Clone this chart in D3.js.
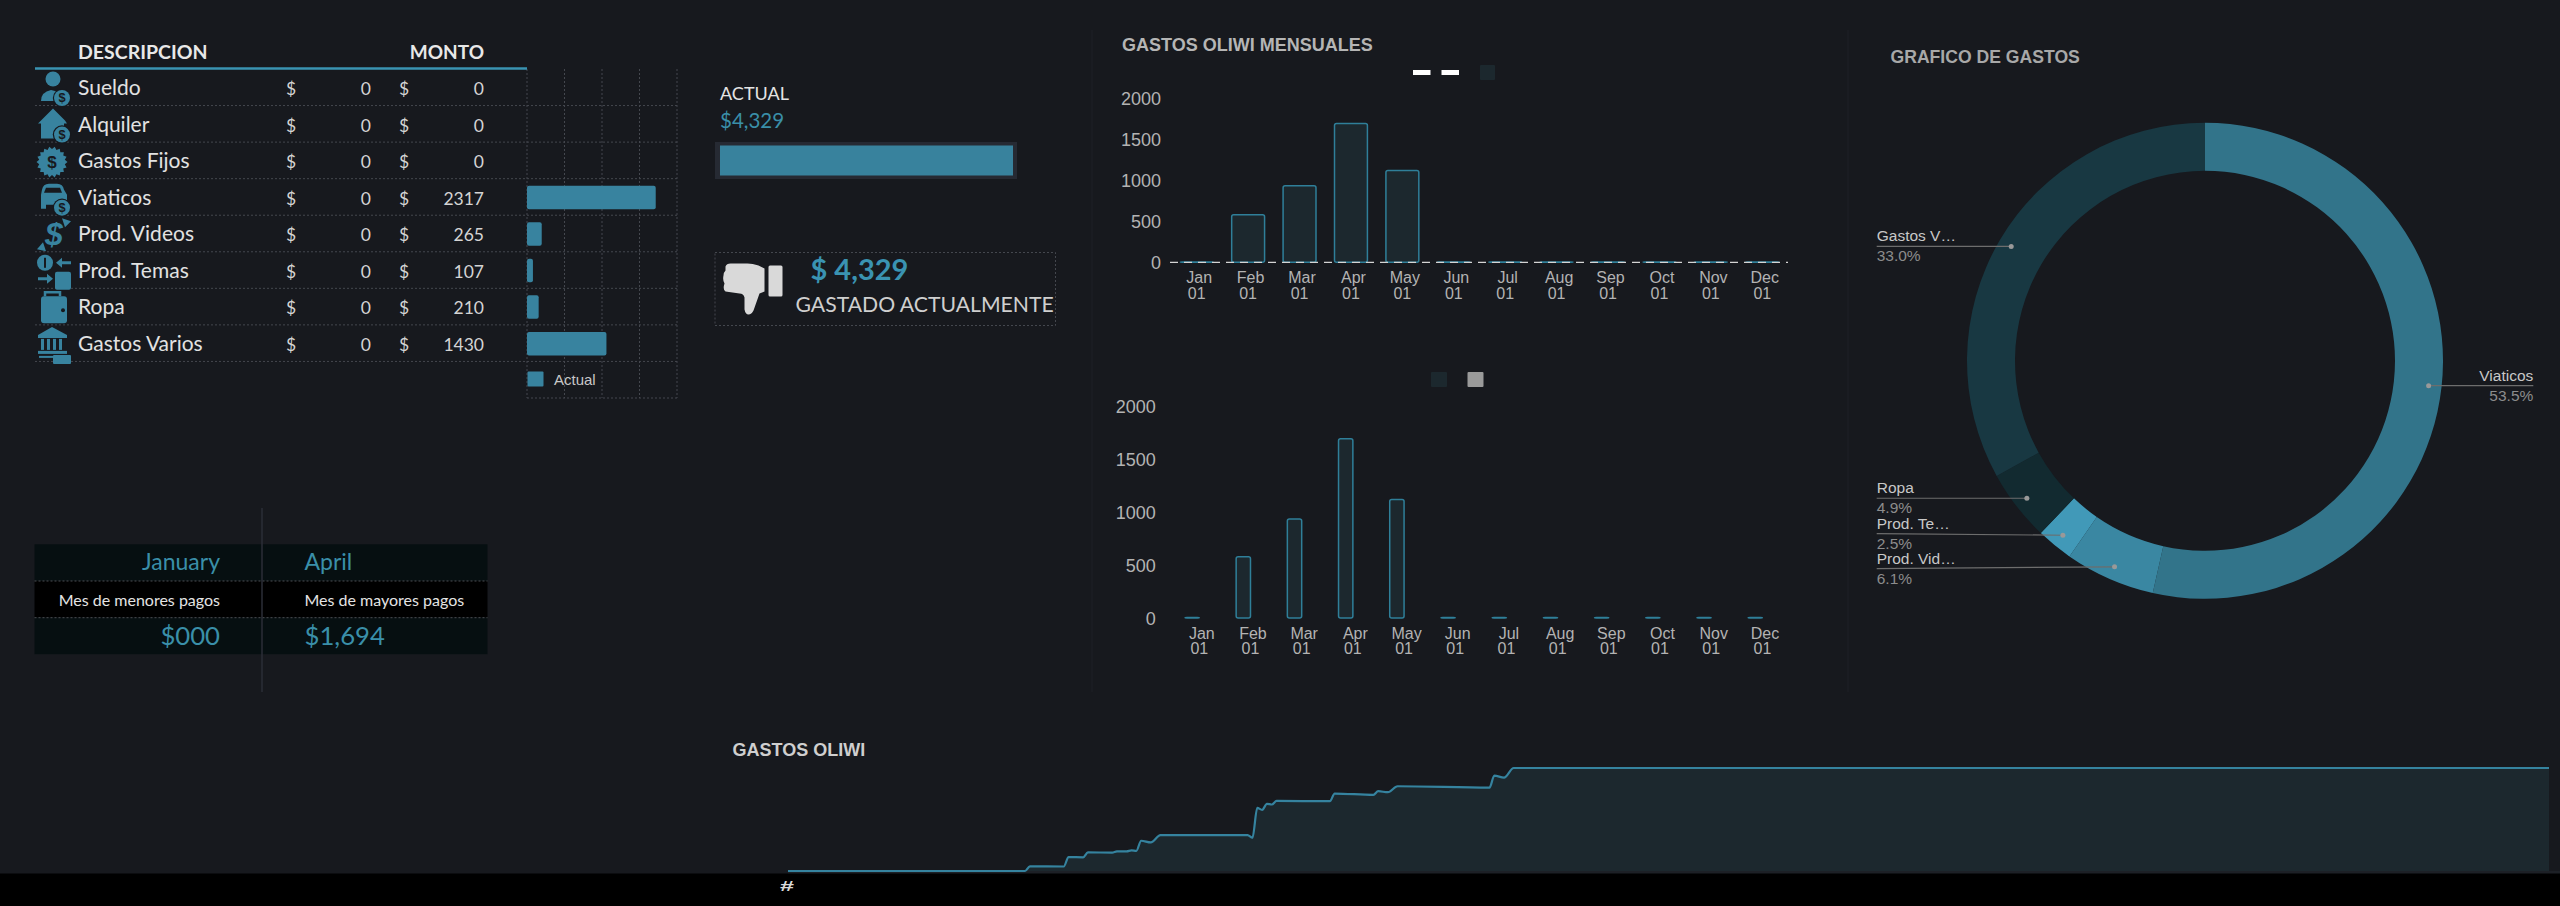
<!DOCTYPE html>
<html>
<head>
<meta charset="utf-8">
<title>Gastos Oliwi</title>
<script src="https://cdn.jsdelivr.net/npm/d3@7"></script>
<style>
    html, body { margin: 0; padding: 0; background: #17191e; overflow: hidden; }
    text { font-family: "Liberation Sans", Arial, sans-serif; }
    .nun { font-family: Lato, "Noto Sans", sans-serif; }
</style>
</head>
<body>
<div id="chart"></div>
<script>
// Table data
const categories = ['Sueldo', 'Alquiler', 'Gastos Fijos', 'Viaticos', 'Prod. Videos', 'Prod. Temas', 'Ropa', 'Gastos Varios'];
const presupuesto = [0, 0, 0, 0, 0, 0, 0, 0];
const montos = [0, 0, 0, 2317, 265, 107, 210, 1430];

// Monthly data
const months = ['Jan', 'Feb', 'Mar', 'Apr', 'May', 'Jun', 'Jul', 'Aug', 'Sep', 'Oct', 'Nov', 'Dec'];
const monthlyValues = [0, 580, 935, 1694, 1120, 0, 0, 0, 0, 0, 0, 0];
const monthTicks = [0, 500, 1000, 1500, 2000];

// Donut data
const donutLabels = ['Viaticos', 'Prod. Vid…', 'Prod. Te…', 'Ropa', 'Gastos V…'];
const donutValues = [2317, 265, 107, 210, 1430];
const donutPercents = ['53.5%', '6.1%', '2.5%', '4.9%', '33.0%'];
const donutColors = ['#32748a', '#3a87a2', '#4199b8', '#122a30', '#183842'];

// Running total data
const runningDates = ['2021-01-01', '2021-02-19', '2021-02-20', '2021-02-27', '2021-02-28', '2021-03-03', '2021-03-04',
    '2021-03-09', '2021-03-10', '2021-03-12', '2021-03-13', '2021-03-14', '2021-03-15', '2021-03-17', '2021-03-19',
    '2021-04-06', '2021-04-07', '2021-04-08', '2021-04-09', '2021-04-10', '2021-04-11', '2021-04-12', '2021-04-23',
    '2021-04-24', '2021-05-02', '2021-05-03', '2021-05-05', '2021-05-07', '2021-05-26', '2021-05-27', '2021-05-29',
    '2021-05-31', '2021-12-31'];
const runningValues = [0, 0, 196, 190, 587, 575, 782,
    775, 824, 824, 866, 850, 1271, 1201, 1508,
    1508, 1397, 2654, 2570, 2821, 2795, 2947, 2933,
    3255, 3199, 3353, 3311, 3562, 3506, 4009, 3926,
    4329, 4329];

const total = 4329;

// Colours
const teal = '#38839f';
const tealText = '#3a8fa9';
const darkFill = '#1c282e';
const grid = '#44474e';

const svg = d3.select('#chart')
    .append('svg')
    .attr('width', 2560)
    .attr('height', 906)
    .style('display', 'block');

// Panel separators
function drawSeparators() {
    svg.selectAll('.separator')
        .data([1092, 1848])
        .enter()
        .append('line')
        .attr('class', 'separator')
        .attr('x1', d => d)
        .attr('x2', d => d)
        .attr('y1', 30)
        .attr('y2', 692)
        .attr('stroke', '#1e2127');
}

// Small coin with a dollar sign, used by the row icons
function coin(g, x, y, r) {
    g.append('circle').attr('cx', x).attr('cy', y).attr('r', r + 1.2).attr('fill', '#17191e');
    g.append('circle').attr('cx', x).attr('cy', y).attr('r', r).attr('fill', teal);
    g.append('text')
        .attr('x', x)
        .attr('y', y + r * 0.55)
        .attr('text-anchor', 'middle')
        .attr('font-size', r * 1.6)
        .attr('font-weight', 'bold')
        .attr('fill', '#17191e')
        .text('$');
}

function shape(g, d) {
    return g.append('path').attr('d', d).attr('fill', teal);
}

// One function for each row icon, all in a 34x36 box
const icons = [
    g => {
        g.append('circle').attr('cx', 16).attr('cy', 8).attr('r', 7.5).attr('fill', teal);
        shape(g, 'M4 30 Q4 21 14 19 L22 21 L18 30 Z');
        coin(g, 25, 27, 8);
    },
    g => {
        shape(g, 'M1 16 L16 1 L28 13 L30 16 L27 16 L27 31 L4 31 L4 16 Z');
        coin(g, 25, 27, 8);
    },
    g => {
        const star = d3.lineRadial().curve(d3.curveLinearClosed);
        g.append('path')
            .attr('transform', 'translate(15,18)')
            .attr('d', star(d3.range(36).map(i => [i * Math.PI / 18, i % 2 ? 15.5 : 13])))
            .attr('fill', teal);
        g.append('text').attr('x', 15).attr('y', 24).attr('text-anchor', 'middle')
            .attr('font-size', 17).attr('font-weight', 'bold').attr('fill', '#17191e').text('$');
    },
    g => {
        shape(g, 'M5 9 Q6 3 12 3 L20 3 Q26 3 27 9 L30 14 L30 24 L26 24 L26 28 L21 28 L21 24 L9 24 L9 28 L4 28 L4 14 Z');
        g.append('path').attr('d', 'M9 7 L23 7 L25 12 L7 12 Z').attr('fill', '#17191e');
        coin(g, 25, 27, 8);
    },
    g => {
        g.append('text').attr('x', 17).attr('y', 28).attr('text-anchor', 'middle')
            .attr('font-size', 32).attr('font-weight', 'bold').attr('font-style', 'italic').attr('fill', teal).text('$');
        shape(g, 'M25 1 L34 4 L28 10 Z');
        shape(g, 'M0 32 L9 34 L6 25 Z');
    },
    g => {
        g.append('circle').attr('cx', 8).attr('cy', 9).attr('r', 8).attr('fill', teal);
        g.append('rect').attr('x', 7).attr('y', 4).attr('width', 2).attr('height', 10).attr('fill', '#17191e');
        shape(g, 'M19 9 L25 4 L25 7.5 L34 7.5 L34 10.5 L25 10.5 L25 14 Z');
        shape(g, 'M16 25 L10 20 L10 23.5 L1 23.5 L1 26.5 L10 26.5 L10 30 Z');
        g.append('rect').attr('x', 18).attr('y', 18).attr('width', 16).attr('height', 18).attr('rx', 2).attr('fill', teal);
    },
    g => {
        g.append('path').attr('d', 'M8 6 L8 2 L23 2 L23 6').attr('fill', 'none').attr('stroke', teal).attr('stroke-width', 2.5);
        g.append('rect').attr('x', 4).attr('y', 6).attr('width', 26).attr('height', 27).attr('rx', 3).attr('fill', teal);
        g.append('circle').attr('cx', 26).attr('cy', 20).attr('r', 2).attr('fill', '#17191e');
    },
    g => {
        shape(g, 'M15 0 L30 8 L30 11 L1 11 L1 8 Z');
        g.selectAll('.col').data([4, 10, 16, 22]).enter().append('rect')
            .attr('x', d => d).attr('y', 12).attr('width', 3).attr('height', 11).attr('fill', teal);
        g.append('rect').attr('x', 1).attr('y', 24).attr('width', 29).attr('height', 3).attr('fill', teal);
        g.append('rect').attr('x', 2).attr('y', 29).attr('width', 14).attr('height', 2).attr('fill', teal);
        g.append('rect').attr('x', 16).attr('y', 28).attr('width', 18).attr('height', 9).attr('rx', 1).attr('fill', teal);
    }
];

// Table with its bar chart on the right
function drawTable() {
    const rowNames = categories.concat(['legend']);

    const y = d3.scaleBand().domain(rowNames).range([69, 398]);
    const x = d3.scaleLinear().domain([0, 2700]).range([527, 677]);

    // Grid of the bar chart
    svg.selectAll('.grid-v')
        .data(d3.range(0, 2701, 675))
        .enter()
        .append('line')
        .attr('class', 'grid-v')
        .attr('x1', d => x(d))
        .attr('x2', d => x(d))
        .attr('y1', 69)
        .attr('y2', 398)
        .attr('stroke', grid)
        .attr('stroke-dasharray', '2 2');

    // Row lines run through the table, the last one only under the chart
    svg.selectAll('.grid-h')
        .data(rowNames)
        .enter()
        .append('line')
        .attr('class', 'grid-h')
        .attr('x1', d => d === 'legend' ? 527 : 35)
        .attr('x2', 677)
        .attr('y1', d => y(d) + y.bandwidth())
        .attr('y2', d => y(d) + y.bandwidth())
        .attr('stroke', grid)
        .attr('stroke-dasharray', '2 2');

    svg.append('line')
        .attr('x1', 35)
        .attr('x2', 527)
        .attr('y1', 68.5)
        .attr('y2', 68.5)
        .attr('stroke', '#3a93b2')
        .attr('stroke-width', 2.5);

    svg.append('text')
        .attr('class', 'nun')
        .attr('x', 78)
        .attr('y', 59)
        .attr('font-size', 19.5)
        .attr('font-weight', 'bold')
        .attr('fill', '#e8e8e8')
        .text('DESCRIPCION');

    svg.append('text')
        .attr('class', 'nun')
        .attr('x', 484)
        .attr('y', 59)
        .attr('text-anchor', 'end')
        .attr('font-size', 19)
        .attr('font-weight', 'bold')
        .attr('fill', '#e8e8e8')
        .text('MONTO');

    const rows = svg.selectAll('.row')
        .data(categories)
        .enter()
        .append('g')
        .attr('class', 'row')
        .attr('transform', d => `translate(0,${y(d)})`);

    rows.each(function (d, i) {
        icons[i](d3.select(this).append('g').attr('transform', 'translate(37,2)'));
    });

    rows.append('text')
        .attr('class', 'nun')
        .attr('x', 78)
        .attr('y', 26)
        .attr('font-size', 21)
        .attr('fill', '#e2e2e2')
        .text(d => d);

    [[291, 'middle', () => '$'], [371, 'end', (d, i) => presupuesto[i]], [404, 'middle', () => '$'], [484, 'end', (d, i) => montos[i]]]
        .forEach(col => {
            rows.append('text')
                .attr('class', 'nun')
                .attr('x', col[0])
                .attr('y', 26)
                .attr('text-anchor', col[1])
                .attr('font-size', 17.5)
                .attr('fill', '#d4d4d4')
                .text(col[2]);
        });

    // Bars
    const barHeight = 23.5;
    svg.selectAll('.bar')
        .data(categories)
        .enter()
        .append('rect')
        .attr('class', 'bar')
        .attr('x', x(0))
        .attr('y', d => y(d) + (y.bandwidth() - barHeight) / 2 + 0.5)
        .attr('width', (d, i) => x(montos[i]) - x(0))
        .attr('height', barHeight)
        .attr('rx', 2)
        .attr('fill', teal);

    // Legend
    svg.append('rect')
        .attr('x', 527.5)
        .attr('y', 371.5)
        .attr('width', 16)
        .attr('height', 15)
        .attr('rx', 1)
        .attr('fill', teal);

    svg.append('text')
        .attr('x', 554)
        .attr('y', 384.5)
        .attr('font-size', 15)
        .attr('fill', '#c8c8c8')
        .text('Actual');
}

// Actual progress bar and spent card
function drawActual() {
    svg.append('text')
        .attr('class', 'nun')
        .attr('x', 720)
        .attr('y', 100)
        .attr('font-size', 18)
        .attr('fill', '#e4e4e4')
        .text('ACTUAL');

    svg.append('text')
        .attr('class', 'nun')
        .attr('x', 720)
        .attr('y', 127.5)
        .attr('font-size', 20.5)
        .attr('fill', tealText)
        .text('$' + d3.format(',')(total));

    const x = d3.scaleLinear().domain([0, total]).range([720, 1013]);

    svg.append('rect')
        .attr('x', 715)
        .attr('y', 142)
        .attr('width', 302)
        .attr('height', 37)
        .attr('fill', '#262a33');

    svg.append('rect')
        .attr('x', x(0))
        .attr('y', 145.5)
        .attr('width', x(total) - x(0))
        .attr('height', 30)
        .attr('fill', '#38829d');

    // Spent card
    svg.append('rect')
        .attr('x', 715)
        .attr('y', 252.5)
        .attr('width', 340.5)
        .attr('height', 73)
        .attr('fill', 'none')
        .attr('stroke', grid)
        .attr('stroke-dasharray', '2 2');

    const thumb = svg.append('g').attr('transform', 'translate(722.5,262.5)').attr('fill', '#d9d9d9');
    thumb.append('path')
        .attr('d', 'M8 1 Q4 1 3 4 L3 8 Q1 10 1 13 Q0 18 2 21 Q0 27 3 29 L17 31 Q21 31 22 35 L22 47 Q23 52 26 52 Q29 52 31 48 L37 31 L42 29 L42 6 L36 3 Q30 1 25 1 Z');
    thumb.append('rect')
        .attr('x', 46)
        .attr('y', 3)
        .attr('width', 14)
        .attr('height', 31)
        .attr('rx', 1.5);

    svg.append('text')
        .attr('class', 'nun')
        .attr('x', 810.5)
        .attr('y', 280)
        .attr('font-size', 29)
        .attr('font-weight', 'bold')
        .attr('fill', '#3a93b2')
        .text('$ ' + d3.format(',')(total));

    svg.append('text')
        .attr('class', 'nun')
        .attr('x', 795.5)
        .attr('y', 311.5)
        .attr('font-size', 21.2)
        .attr('fill', '#cfcfcf')
        .text('GASTADO ACTUALMENTE');
}

// Two line month labels below a chart
function monthLabels(x, baseline) {
    const labels = svg.selectAll(null)
        .data(months)
        .enter()
        .append('text')
        .attr('text-anchor', 'middle')
        .attr('font-size', 16)
        .attr('fill', '#b3b3b3');

    labels.append('tspan')
        .attr('x', d => x(d) + x.bandwidth() / 2 + 2.5)
        .attr('y', baseline)
        .text(d => d);

    labels.append('tspan')
        .attr('x', d => x(d) + x.bandwidth() / 2)
        .attr('y', baseline + 15.5)
        .text('01');
}

function yAxisLabels(y, right) {
    svg.selectAll(null)
        .data(monthTicks)
        .enter()
        .append('text')
        .attr('x', right)
        .attr('y', d => y(d) + 6.5)
        .attr('text-anchor', 'end')
        .attr('font-size', 18)
        .attr('fill', '#b3b3b3')
        .text(d => d);
}

// Height of a bar, empty months keep a thin line so their stroke shows
function barSize(y, value) {
    return Math.max(y(0) - y(value), 0.4);
}

// Top monthly chart
function drawMonthlyTop() {
    svg.append('text')
        .attr('x', 1122)
        .attr('y', 51)
        .attr('font-size', 18)
        .attr('font-weight', 'bold')
        .attr('fill', '#b5b5b5')
        .text('GASTOS OLIWI MENSUALES');

    const x = d3.scaleBand().domain(months).range([1171, 1788]).paddingInner(0.36).paddingOuter(0.18);
    const y = d3.scaleLinear().domain([0, 2000]).range([262.3, 98.3]);

    yAxisLabels(y, 1161);

    svg.selectAll('.bar-top')
        .data(months)
        .enter()
        .append('rect')
        .attr('class', 'bar-top')
        .attr('x', d => x(d))
        .attr('y', (d, i) => y(0) - barSize(y, monthlyValues[i]))
        .attr('width', x.bandwidth())
        .attr('height', (d, i) => barSize(y, monthlyValues[i]))
        .attr('rx', 2)
        .attr('fill', darkFill)
        .attr('stroke', '#2f7f99')
        .attr('stroke-width', 1.5);

    // Zero line
    svg.append('line')
        .attr('x1', 1170)
        .attr('x2', 1788)
        .attr('y1', y(0))
        .attr('y2', y(0))
        .attr('stroke', '#d4d4d4')
        .attr('stroke-width', 1.3)
        .attr('stroke-dasharray', '8 6');

    monthLabels(x, 283);

    // Legend
    svg.selectAll('.dash-key')
        .data([1413, 1441.5])
        .enter()
        .append('rect')
        .attr('class', 'dash-key')
        .attr('x', d => d)
        .attr('y', 70)
        .attr('width', 17.5)
        .attr('height', 5)
        .attr('fill', '#ffffff');

    svg.append('rect')
        .attr('x', 1480)
        .attr('y', 65)
        .attr('width', 15)
        .attr('height', 15)
        .attr('rx', 1)
        .attr('fill', darkFill);
}

// Bottom monthly chart, grouped bars with the second series empty
function drawMonthlyBottom() {
    const series = ['Actual', 'Otro'];
    const x = d3.scaleBand().domain(months).range([1173.7, 1788]).paddingInner(0.44).paddingOuter(0.22);
    const inner = d3.scaleBand().domain(series).range([0, x.bandwidth()]);
    const y = d3.scaleLinear().domain([0, 2000]).range([618, 406.5]);

    yAxisLabels(y, 1155.7);

    svg.selectAll('.bar-bottom')
        .data(months)
        .enter()
        .append('rect')
        .attr('class', 'bar-bottom')
        .attr('x', d => x(d) + inner('Actual'))
        .attr('y', (d, i) => y(0) - barSize(y, monthlyValues[i]))
        .attr('width', inner.bandwidth())
        .attr('height', (d, i) => barSize(y, monthlyValues[i]))
        .attr('rx', 2)
        .attr('fill', darkFill)
        .attr('stroke', '#2f7f99')
        .attr('stroke-width', 1.5);

    monthLabels(x, 638.5);

    // Legend
    svg.append('rect')
        .attr('x', 1431)
        .attr('y', 372)
        .attr('width', 16)
        .attr('height', 15)
        .attr('rx', 1)
        .attr('fill', darkFill);

    svg.append('rect')
        .attr('x', 1467.5)
        .attr('y', 372)
        .attr('width', 16)
        .attr('height', 15)
        .attr('rx', 1)
        .attr('fill', '#9a9a9a');
}

// Lowest and highest month table
function drawMonthsTable() {
    const rows = [544.3, 581, 617.7];

    svg.selectAll('.band')
        .data(rows)
        .enter()
        .append('rect')
        .attr('class', 'band')
        .attr('x', 34.5)
        .attr('y', d => d)
        .attr('width', 453)
        .attr('height', 36.5)
        .attr('fill', (d, i) => i === 1 ? '#000000' : '#060f11');

    svg.selectAll('.band-line')
        .data(rows.slice(1))
        .enter()
        .append('line')
        .attr('class', 'band-line')
        .attr('x1', 34.5)
        .attr('x2', 487.5)
        .attr('y1', d => d)
        .attr('y2', d => d)
        .attr('stroke', '#4a4d52')
        .attr('stroke-dasharray', '2 2');

    svg.append('line')
        .attr('x1', 262)
        .attr('x2', 262)
        .attr('y1', 508)
        .attr('y2', 692)
        .attr('stroke', '#2b2e37')
        .attr('stroke-width', 1.5);

    const texts = [
        { x: 220, y: 570, anchor: 'end', size: 23, fill: tealText, text: 'January' },
        { x: 304.5, y: 570, anchor: 'start', size: 23, fill: tealText, text: 'April' },
        { x: 220, y: 605.5, anchor: 'end', size: 16, fill: '#e4e4e4', text: 'Mes de menores pagos' },
        { x: 304.5, y: 605.5, anchor: 'start', size: 16, fill: '#e4e4e4', text: 'Mes de mayores pagos' },
        { x: 220, y: 645, anchor: 'end', size: 25.7, fill: tealText, text: '$000' },
        { x: 304.5, y: 645, anchor: 'start', size: 25.7, fill: tealText, text: '$' + d3.format(',')(d3.max(monthlyValues)) }
    ];

    svg.selectAll('.month-text')
        .data(texts)
        .enter()
        .append('text')
        .attr('class', 'month-text nun')
        .attr('x', d => d.x)
        .attr('y', d => d.y)
        .attr('text-anchor', d => d.anchor)
        .attr('font-size', d => d.size)
        .attr('fill', d => d.fill)
        .text(d => d.text);
}

// Spread label heights so two stacked labels never touch
function spreadLabels(nodes, gap) {
    const sorted = nodes.slice().sort((a, b) => a.labelY - b.labelY);
    for (let i = 1; i < sorted.length; i++) {
        const overlap = gap - (sorted[i].labelY - sorted[i - 1].labelY);
        if (overlap > 0) {
            sorted[i - 1].labelY -= overlap / 2;
            sorted[i].labelY += overlap / 2;
        }
    }
}

// Donut chart
function drawDonut() {
    svg.append('text')
        .attr('x', 1890.5)
        .attr('y', 63)
        .attr('font-size', 17.6)
        .attr('font-weight', 'bold')
        .attr('fill', '#a8a8a8')
        .text('GRAFICO DE GASTOS');

    const g = svg.append('g').attr('transform', 'translate(2205,360.8)');

    const pie = d3.pie().value(d => d).sort(null);
    const arcs = pie(donutValues);

    const arc = d3.arc().innerRadius(190).outerRadius(238);
    const dotArc = d3.arc().innerRadius(225).outerRadius(225);

    g.selectAll('.slice')
        .data(arcs)
        .enter()
        .append('path')
        .attr('class', 'slice')
        .attr('d', arc)
        .attr('fill', (d, i) => donutColors[i]);

    // Labels sit on the far side of the panel, at the height of their dot
    const isRight = d => (d.startAngle + d.endAngle) / 2 < Math.PI;
    const labelX = d => isRight(d) ? 328.3 : -328.3;

    arcs.forEach(d => {
        d.dot = dotArc.centroid(d);
        d.labelY = d.dot[1];
    });
    spreadLabels(arcs.filter(d => !isRight(d)), 35);

    const labels = g.selectAll('.slice-label')
        .data(arcs)
        .enter()
        .append('g')
        .attr('class', 'slice-label');

    labels.append('line')
        .attr('x1', d => labelX(d))
        .attr('x2', d => d.dot[0])
        .attr('y1', d => d.labelY)
        .attr('y2', d => d.dot[1])
        .attr('stroke', '#6d6d6d')
        .attr('stroke-width', 1.2);

    labels.append('circle')
        .attr('cx', d => d.dot[0])
        .attr('cy', d => d.dot[1])
        .attr('r', 2.5)
        .attr('fill', '#999999');

    labels.append('text')
        .attr('x', d => labelX(d))
        .attr('y', d => d.labelY - 5)
        .attr('text-anchor', d => isRight(d) ? 'end' : 'start')
        .attr('font-size', 15.5)
        .attr('fill', '#c8c8c8')
        .text((d, i) => donutLabels[i]);

    labels.append('text')
        .attr('x', d => labelX(d))
        .attr('y', d => d.labelY + 15)
        .attr('text-anchor', d => isRight(d) ? 'end' : 'start')
        .attr('font-size', 15.5)
        .attr('fill', '#8c8c8c')
        .text((d, i) => donutPercents[i]);
}

// Running total area at the bottom
function drawRunning() {
    svg.append('text')
        .attr('x', 732.5)
        .attr('y', 756)
        .attr('font-size', 18)
        .attr('font-weight', 'bold')
        .attr('fill', '#cfcfcf')
        .text('GASTOS OLIWI');

    const parse = d3.timeParse('%Y-%m-%d');
    const points = runningDates.map((d, i) => ({ date: parse(d), value: runningValues[i] }));

    const x = d3.scaleTime().domain([parse('2021-01-01'), parse('2021-12-31')]).range([788, 2549]);
    const y = d3.scaleLinear().domain([0, total]).range([871, 768]);

    const area = d3.area()
        .x(d => x(d.date))
        .y0(y(0))
        .y1(d => y(d.value))
        .curve(d3.curveMonotoneX);

    const line = d3.line()
        .x(d => x(d.date))
        .y(d => y(d.value))
        .curve(d3.curveMonotoneX);

    svg.append('rect')
        .attr('x', 788)
        .attr('y', 871)
        .attr('width', 1772)
        .attr('height', 3)
        .attr('fill', '#1d2026');

    svg.append('path')
        .attr('d', area(points))
        .attr('fill', darkFill);

    svg.append('path')
        .attr('d', line(points))
        .attr('fill', 'none')
        .attr('stroke', '#35839f')
        .attr('stroke-width', 2.2);

    // Black strip with the page tab
    svg.append('rect')
        .attr('x', 0)
        .attr('y', 873.5)
        .attr('width', 2560)
        .attr('height', 33)
        .attr('fill', '#000000');

    svg.append('text')
        .attr('x', 780)
        .attr('y', 891)
        .attr('textLength', 14)
        .attr('lengthAdjust', 'spacingAndGlyphs')
        .attr('font-size', 14)
        .attr('font-weight', 'bold')
        .attr('fill', '#d9d9d9')
        .text('#');
}

window.onload = function () {
    drawSeparators();
    drawTable();
    drawActual();
    drawMonthlyTop();
    drawMonthlyBottom();
    drawMonthsTable();
    drawDonut();
    drawRunning();
};
</script>
</body>
</html>
